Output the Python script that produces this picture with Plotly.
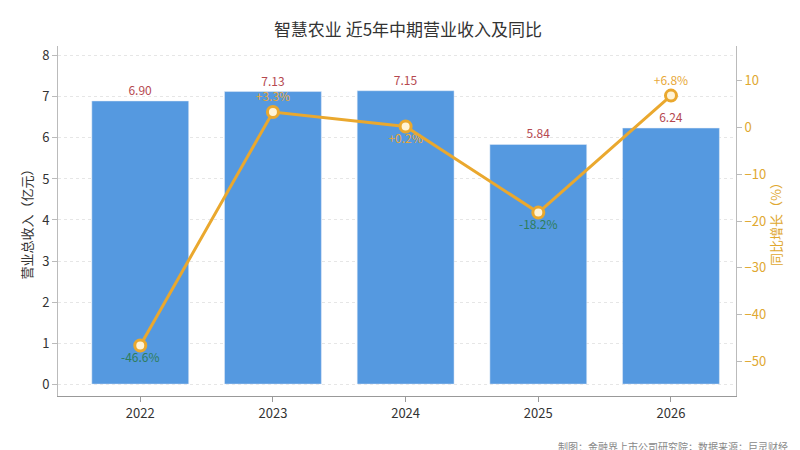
import plotly.graph_objects as go

years = ["2022", "2023", "2024", "2025", "2026"]
revenue = [6.90, 7.13, 7.15, 5.84, 6.24]
yoy = [-46.6, 3.3, 0.2, -18.2, 6.8]
yoy_text = ["-46.6%", "+3.3%", "+0.2%", "-18.2%", "+6.8%"]
yoy_pos = ["bottom center", "top center", "bottom center", "bottom center", "top center"]
yoy_col = ["#2e7d5b", "#e8a838", "#e8a838", "#2e7d5b", "#e8a838"]

fig = go.Figure()
fig.add_bar(x=years, y=revenue, marker_color="#5599e0", width=0.73,
            text=[f"{v:.2f}" for v in revenue], textposition="outside",
            textfont=dict(color="#b5484f", size=12), cliponaxis=False)
fig.add_scatter(x=years, y=yoy, yaxis="y2", mode="lines+markers+text",
                line=dict(color="#eaa82e", width=3),
                marker=dict(size=11, color="#fff3d6", line=dict(color="#eaa82e", width=3)),
                text=yoy_text, textposition=yoy_pos,
                textfont=dict(color=yoy_col, size=12), cliponaxis=False)

fig.update_layout(
    width=800, height=450, plot_bgcolor="white", paper_bgcolor="white",
    font=dict(family="Noto Sans CJK SC", color="#444"),
    title=dict(text="智慧农业 近5年中期营业收入及同比", x=0.5, y=0.965, font=dict(size=17, color="#333")),
    margin=dict(l=50, r=72, t=38, b=62), showlegend=False,
    xaxis=dict(range=[-0.62, 4.49], showline=True, linecolor="#999", ticks="outside",
               tickcolor="#999", tickfont=dict(size=13, color="#333")),
    yaxis=dict(range=[-0.29, 8.24], tickvals=list(range(9)), showgrid=True,
               gridcolor="#e6e6e6", griddash="dot", zeroline=False, showline=True,
               linecolor="#bbb", ticks="outside", tickcolor="#bbb",
               title=dict(text="营业总收入（亿元）", font=dict(size=13, color="#333"), standoff=6),
               tickfont=dict(size=13, color="#333")),
    yaxis2=dict(overlaying="y", side="right", range=[-57.4, 17.4],
                tickvals=[10, 0, -10, -20, -30, -40, -50], showgrid=False, zeroline=False,
                showline=True, linecolor="#bbb", ticks="outside", tickcolor="#bbb",
                tickfont=dict(size=13, color="#e0a830"),
                title=dict(text="同比增长（%）", font=dict(size=13, color="#e0a830"), standoff=4)),
)
fig.add_annotation(text="制图：金融界上市公司研究院；数据来源：巨灵财经", xref="paper", yref="paper",
                   x=1.08, y=-0.17, xanchor="right", showarrow=False,
                   font=dict(size=10, color="#888"))
fig.write_html("out.html")
